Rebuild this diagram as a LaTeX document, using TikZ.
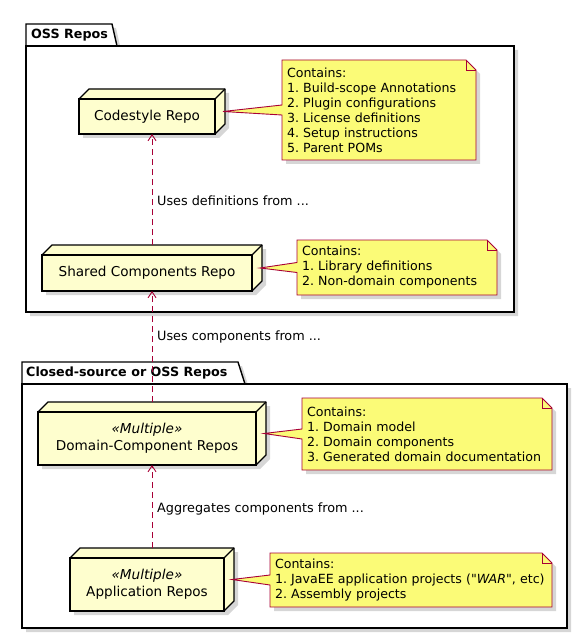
\documentclass[tikz,border=0pt]{standalone}
\usepackage{fontspec}
\setmainfont{DejaVu Sans}
\usetikzlibrary{arrows.meta}
\definecolor{nodefill}{HTML}{FEFECE}
\definecolor{notefill}{HTML}{FBFB77}
\definecolor{crim}{HTML}{A80036}
\pgfdeclarelayer{pkg}
\pgfdeclarelayer{shad}
\pgfdeclarelayer{shape}
\pgfsetlayers{pkg,shad,shape,main}
\frenchspacing
\begin{document}
\begin{tikzpicture}[x=1pt,y=-1pt,
 repo/.style={draw=black, fill=nodefill, line width=1.3pt, inner sep=0pt, outer sep=0pt, align=center, font=\fontsize{13.6}{17}\selectfont},
 repoface/.style={draw=black, fill=nodefill, line width=1.3pt, line join=round},
 notetext/.style={inner xsep=5pt, inner ysep=0pt, outer sep=0pt, align=left, font=\fontsize{12.6}{15}\selectfont},
 noteline/.style={draw=crim, fill=notefill, line width=0.9pt, line join=miter},
 foldline/.style={draw=crim, line width=0.9pt},
 pkgline/.style={draw=black, fill=white, line width=1.4pt},
 pkgtitle/.style={anchor=west, inner sep=0pt, font=\bfseries\fontsize{12.7}{16}\selectfont},
 dep/.style={draw=crim, line width=0.9pt, dash pattern=on 6pt off 4pt, -{Straight Barb[length=6pt,width=8pt]}},
 deplabel/.style={anchor=west, inner sep=0pt, font=\fontsize{12.8}{15}\selectfont},
 shadow/.style={fill=black, opacity=0.16},
]
\useasboundingbox (0,0) rectangle (588,639);

% packages
\begin{pgfonlayer}{pkg}
 \fill[shadow] (30,28) -- (116,28) -- (121,50) -- (518,50) -- (518,316) -- (30,316) -- cycle;
 \path[pkgline] (26,46) -- (26,24) -- (112,24) -- (117,46) -- cycle;
 \path[pkgline] (26,46) rectangle (514,312);
 \fill[shadow] (26,366) -- (242,366) -- (249,388) -- (571,388) -- (571,632) -- (26,632) -- cycle;
 \path[pkgline] (22,384) -- (22,362) -- (238,362) -- (245,384) -- cycle;
 \path[pkgline] (22,384) rectangle (567,628);
\end{pgfonlayer}
\node[pkgtitle] (t1) at (31,35) {OSS Repos};
\node[pkgtitle] (t2) at (26,373) {Closed-source or OSS Repos};

% repos
\node[repo, minimum width=136pt, minimum height=35pt] (cs) at (147,116.5) {Codestyle Repo};
\node[repo, minimum width=210pt, minimum height=36pt] (sh) at (147,273) {Shared Components Repo};
\node[repo, minimum width=218pt, minimum height=53pt] (dm) at (147,438.5) {{\itshape «Multiple»}\\Domain-Component Repos};
\node[repo, minimum width=154pt, minimum height=53pt] (ap) at (147,584.5) {{\itshape «Multiple»}\\Application Repos};

\foreach \n in {cs,sh,dm,ap}{
 \begin{pgfonlayer}{shad}
  \fill[shadow] ([shift={(4pt,-4pt)}]\n.north west) -- ([shift={(14pt,6pt)}]\n.north west) -- ([shift={(14pt,6pt)}]\n.north east) -- ([shift={(14pt,6pt)}]\n.south east) -- ([shift={(4pt,-4pt)}]\n.south east) -- ([shift={(4pt,-4pt)}]\n.south west) -- cycle;
 \end{pgfonlayer}
 \begin{pgfonlayer}{shape}
  \path[repoface] (\n.north west) -- ([shift={(10pt,10pt)}]\n.north west) -- ([shift={(10pt,10pt)}]\n.north east) -- ([shift={(10pt,10pt)}]\n.south east) -- (\n.south east) -- (\n.north east) -- cycle;
  \draw[line width=1.3pt] (\n.north east) -- ([shift={(10pt,10pt)}]\n.north east);
 \end{pgfonlayer}
}

% notes
\node[notetext, text width=184pt, minimum height=100pt] (n1) at (379,110) {Contains:\\1. Build-scope Annotations\\2. Plugin configurations\\3. License definitions\\4. Setup instructions\\5. Parent POMs};
\node[notetext, text width=190pt, minimum height=55pt] (n2) at (397,267.5) {Contains:\\1. Library definitions\\2. Non-domain components};
\node[notetext, text width=240pt, minimum height=72pt] (n3) at (427,434) {Contains:\\\mbox{1. Domain model}\\\mbox{2. Domain components}\\\mbox{3. Generated domain documentation}};
\node[notetext, text width=272pt, minimum height=54pt] (n4) at (411,580) {Contains:\\\mbox{1. JavaEE application projects (\textquotedbl\textit{WAR}\textquotedbl, etc)}\\\mbox{2. Assembly projects}};

\foreach \n/\r in {n1/cs,n2/sh,n3/dm,n4/ap}{
 \begin{pgfonlayer}{shad}
  \fill[shadow] ([shift={(4pt,-4pt)}]\n.north west) -- ([shift={(-6pt,-4pt)}]\n.north east) -- ([shift={(4pt,-14pt)}]\n.north east) -- ([shift={(4pt,-4pt)}]\n.south east) -- ([shift={(4pt,-4pt)}]\n.south west) -- cycle;
 \end{pgfonlayer}
 \begin{pgfonlayer}{shape}
  \path[noteline] (\n.north west) -- ([xshift=-10pt]\n.north east) -- ([yshift=-10pt]\n.north east) -- (\n.south east) -- (\n.south west) -- ([yshift=-5pt]\n.west) -- ([shift={(8pt,5pt)}]\r.east) -- ([yshift=5pt]\n.west) -- cycle;
  \draw[foldline] ([xshift=-10pt]\n.north east) -- ([xshift=-10pt,yshift=-10pt]\n.north east) -- ([yshift=-10pt]\n.north east);
 \end{pgfonlayer}
}

% dependencies
\draw[dep] ([shift={(5pt,10pt)}]sh.north) -- ([xshift=5pt]cs.south);
\draw[dep] ([shift={(5pt,10pt)}]dm.north) -- ([xshift=5pt]sh.south);
\draw[dep] ([shift={(5pt,10pt)}]ap.north) -- ([xshift=5pt]dm.south);
\node[deplabel] (l1) at (157,201) {Uses definitions from ...};
\node[deplabel] (l2) at (157,337) {Uses components from ...};
\node[deplabel] (l3) at (157,509) {Aggregates components from ...};
\end{tikzpicture}
\end{document}
